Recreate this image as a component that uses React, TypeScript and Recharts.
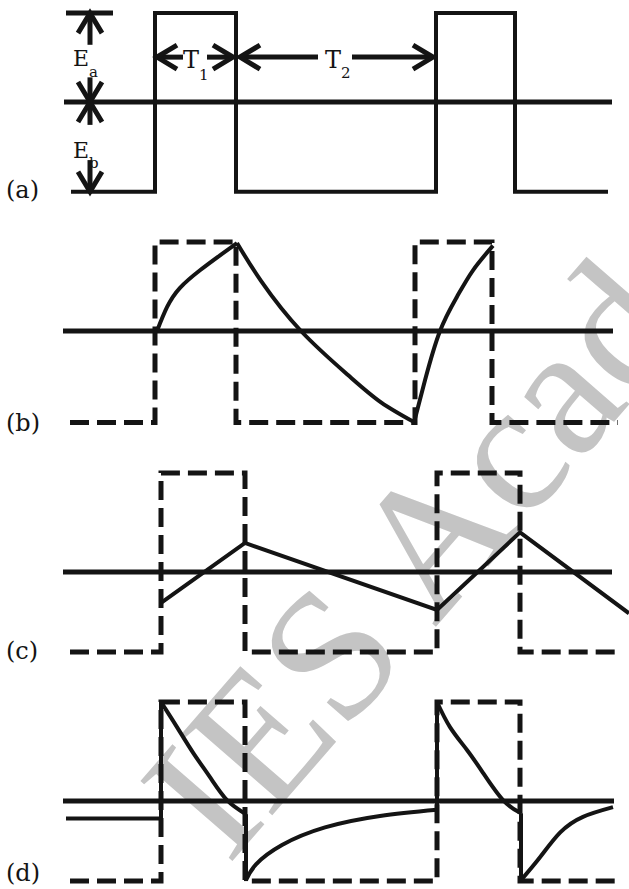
import React from 'react';
import { LineChart, Line, XAxis, YAxis } from 'recharts';

type Pt = { t: number; v: number };
type Dir = 'up' | 'down' | 'left' | 'right';

// t is measured along the sketch (px), v is relative to each reference line (1 ~ pulse height)

// (a) input pulse train
const inputA: Pt[] = [
  { t: 71, v: -1.02 }, { t: 155, v: -1.02 }, { t: 155, v: 1.01 }, { t: 236, v: 1.01 },
  { t: 236, v: -1.02 }, { t: 436, v: -1.02 }, { t: 436, v: 1.01 }, { t: 515, v: 1.01 },
  { t: 515, v: -1.02 }, { t: 608, v: -1.02 },
];
const refA: Pt[] = [{ t: 64, v: 0 }, { t: 612, v: 0 }];
const topTickA: Pt[] = [{ t: 66, v: 1.01 }, { t: 113, v: 1.01 }];

// dimension arrows for Ea, Eb, T1, T2 (broken where the labels sit)
const dimShafts: Pt[][] = [
  [{ t: 90, v: 1.01 }, { t: 90, v: 0.65 }],
  [{ t: 90, v: 0.28 }, { t: 90, v: 0 }],
  [{ t: 90, v: 0 }, { t: 90, v: -0.26 }],
  [{ t: 90, v: -0.66 }, { t: 90, v: -1.02 }],
  [{ t: 157, v: 0.51 }, { t: 183, v: 0.51 }],
  [{ t: 207, v: 0.51 }, { t: 233, v: 0.51 }],
  [{ t: 240, v: 0.51 }, { t: 318, v: 0.51 }],
  [{ t: 352, v: 0.51 }, { t: 433, v: 0.51 }],
];
const dimHeads: { tip: Pt; dir: Dir }[] = [
  { tip: { t: 90, v: 1.01 }, dir: 'up' },
  { tip: { t: 90, v: 0 }, dir: 'down' },
  { tip: { t: 90, v: 0 }, dir: 'up' },
  { tip: { t: 90, v: -1.02 }, dir: 'down' },
  { tip: { t: 157, v: 0.51 }, dir: 'left' },
  { tip: { t: 233, v: 0.51 }, dir: 'right' },
  { tip: { t: 240, v: 0.51 }, dir: 'left' },
  { tip: { t: 433, v: 0.51 }, dir: 'right' },
];

// (b)
const inputB: Pt[] = [
  { t: 70, v: -1.04 }, { t: 155, v: -1.04 }, { t: 155, v: 1.01 }, { t: 236, v: 1.01 },
  { t: 236, v: -1.04 }, { t: 415, v: -1.04 }, { t: 415, v: 1.01 }, { t: 492, v: 1.01 },
  { t: 492, v: -1.04 }, { t: 618, v: -1.04 },
];
const riseB1: Pt[] = [
  { t: 157, v: 0 }, { t: 167, v: 0.27 }, { t: 180, v: 0.49 }, { t: 200, v: 0.69 },
  { t: 220, v: 0.86 }, { t: 237, v: 1.0 },
];
const fallB: Pt[] = [
  { t: 237, v: 1.0 }, { t: 261, v: 0.57 }, { t: 301, v: 0 }, { t: 348, v: -0.5 },
  { t: 381, v: -0.81 }, { t: 415, v: -1.04 },
];
const riseB2: Pt[] = [
  { t: 414, v: -1.04 }, { t: 425, v: -0.56 }, { t: 440, v: 0 }, { t: 457, v: 0.39 },
  { t: 473, v: 0.69 }, { t: 493, v: 0.97 },
];
const refB: Pt[] = [{ t: 63, v: 0 }, { t: 613, v: 0 }];

// (c)
const inputC: Pt[] = [
  { t: 70, v: -0.91 }, { t: 161, v: -0.91 }, { t: 161, v: 1.125 }, { t: 245, v: 1.125 },
  { t: 245, v: -0.91 }, { t: 437, v: -0.91 }, { t: 437, v: 1.125 }, { t: 520, v: 1.125 },
  { t: 520, v: -0.91 }, { t: 618, v: -0.91 },
];
const triC: Pt[] = [
  { t: 161, v: -0.35 }, { t: 245, v: 0.33 }, { t: 437, v: -0.43 }, { t: 520, v: 0.45 }, { t: 629, v: -0.47 },
];
const refC: Pt[] = [{ t: 63, v: 0 }, { t: 612, v: 0 }];

// (d)
const inputD: Pt[] = [
  { t: 70, v: -0.91 }, { t: 161, v: -0.91 }, { t: 161, v: 1.125 }, { t: 245, v: 1.125 },
  { t: 245, v: -0.91 }, { t: 437, v: -0.91 }, { t: 437, v: 1.125 }, { t: 520, v: 1.125 },
  { t: 520, v: -0.91 }, { t: 618, v: -0.91 },
];
const edgesD: Pt[][] = [
  [{ t: 66, v: -0.2 }, { t: 161, v: -0.2 }, { t: 161, v: 1.125 }],
  [{ t: 246, v: -0.15 }, { t: 246, v: -0.91 }],
  [{ t: 437, v: -0.1 }, { t: 437, v: 1.125 }],
  [{ t: 521, v: -0.14 }, { t: 521, v: -0.91 }],
];
const decayD1: Pt[] = [
  { t: 161, v: 1.125 }, { t: 177, v: 0.84 }, { t: 193, v: 0.55 }, { t: 210, v: 0.27 },
  { t: 227, v: 0.01 }, { t: 246, v: -0.15 },
];
const recoverD1: Pt[] = [
  { t: 246, v: -0.9 }, { t: 256, v: -0.72 }, { t: 282, v: -0.5 }, { t: 325, v: -0.3 },
  { t: 380, v: -0.17 }, { t: 437, v: -0.1 },
];
const decayD2: Pt[] = [
  { t: 437, v: 1.125 }, { t: 450, v: 0.84 }, { t: 467, v: 0.58 }, { t: 483, v: 0.32 },
  { t: 503, v: 0.01 }, { t: 521, v: -0.14 },
];
const recoverD2: Pt[] = [
  { t: 521, v: -0.9 }, { t: 540, v: -0.64 }, { t: 560, v: -0.36 }, { t: 583, v: -0.18 }, { t: 613, v: -0.07 },
];
const refD: Pt[] = [{ t: 63, v: 0 }, { t: 614, v: 0 }];

const panelTags = [
  { label: '(a)', y: 198 },
  { label: '(b)', y: 431 },
  { label: '(c)', y: 659 },
  { label: '(d)', y: 881 },
];

const INK = '#141414';
const W = 629;
const H = 220;
const V_RANGE = 1.25;
const PX_PER_V = H / (2 * V_RANGE);
const HEAD_LEN = 20;
const HEAD_HALF = 12;

function head(tip: Pt, dir: Dir): Pt[] {
  const dv = HEAD_LEN / PX_PER_V;
  const hv = HEAD_HALF / PX_PER_V;
  switch (dir) {
    case 'up':
      return [{ t: tip.t - HEAD_HALF, v: tip.v - dv }, tip, { t: tip.t + HEAD_HALF, v: tip.v - dv }];
    case 'down':
      return [{ t: tip.t - HEAD_HALF, v: tip.v + dv }, tip, { t: tip.t + HEAD_HALF, v: tip.v + dv }];
    case 'left':
      return [{ t: tip.t + HEAD_LEN, v: tip.v + hv }, tip, { t: tip.t + HEAD_LEN, v: tip.v - hv }];
    default:
      return [{ t: tip.t - HEAD_LEN, v: tip.v + hv }, tip, { t: tip.t - HEAD_LEN, v: tip.v - hv }];
  }
}

function trace(key: string, data: Pt[], opts: { curved?: boolean; dashed?: boolean; width?: number } = {}) {
  return (
    <Line
      key={key}
      data={data}
      dataKey="v"
      type={opts.curved ? 'natural' : 'linear'}
      stroke={INK}
      strokeWidth={opts.width ?? 4}
      strokeDasharray={opts.dashed ? '19 8' : undefined}
      strokeLinejoin="miter"
      dot={false}
      activeDot={false}
      isAnimationActive={false}
    />
  );
}

function Panel({ top, children }: { top: number; children: React.ReactNode }) {
  return (
    <div style={{ position: 'absolute', left: 0, top }}>
      <LineChart width={W} height={H} margin={{ top: 0, right: 0, bottom: 0, left: 0 }}>
        <XAxis type="number" dataKey="t" domain={[0, W]} hide allowDataOverflow />
        <YAxis type="number" domain={[-V_RANGE, V_RANGE]} hide allowDataOverflow />
        {children}
      </LineChart>
    </div>
  );
}

const serif = '"DejaVu Serif", "Liberation Serif", serif';

export default function App() {
  return (
    <div
      style={{
        position: 'absolute',
        left: 0,
        top: 0,
        width: W,
        height: 889,
        overflow: 'hidden',
        background: '#ffffff',
      }}
    >
      <svg width={W} height={889} style={{ position: 'absolute', left: 0, top: 0 }}>
        <text
          x={228}
          y={866}
          transform="rotate(-49 228 866)"
          fontFamily='"Liberation Serif", serif'
          fontSize={186}
          fill="#c4c4c4"
        >
          IES Acad
        </text>
      </svg>

      <Panel top={-8}>
        {trace('refA', refA, { width: 5 })}
        {trace('tickA', topTickA, { width: 5 })}
        {trace('inA', inputA)}
        {dimShafts.map((s, i) => trace(`shaft${i}`, s, { width: 5 }))}
        {dimHeads.map((h, i) => trace(`head${i}`, head(h.tip, h.dir), { width: 5 }))}
      </Panel>

      <Panel top={221}>
        {trace('refB', refB, { width: 5 })}
        {trace('inB', inputB, { dashed: true, width: 5 })}
        {trace('b1', riseB1, { curved: true })}
        {trace('b2', fallB, { curved: true })}
        {trace('b3', riseB2, { curved: true })}
      </Panel>

      <Panel top={462}>
        {trace('refC', refC, { width: 5 })}
        {trace('inC', inputC, { dashed: true, width: 5 })}
        {trace('c1', triC)}
      </Panel>

      <Panel top={691}>
        {trace('refD', refD, { width: 5 })}
        {trace('inD', inputD, { dashed: true, width: 5 })}
        {edgesD.map((e, i) => trace(`edge${i}`, e))}
        {trace('d1', decayD1, { curved: true })}
        {trace('d2', recoverD1, { curved: true })}
        {trace('d3', decayD2, { curved: true })}
        {trace('d4', recoverD2, { curved: true })}
      </Panel>

      <svg
        width={W}
        height={889}
        style={{ position: 'absolute', left: 0, top: 0, pointerEvents: 'none' }}
        fontFamily={serif}
        fill={INK}
      >
        {panelTags.map((p) => (
          <text key={p.label} x={6} y={p.y} fontSize={24}>
            {p.label}
          </text>
        ))}
        <text x={73} y={66} fontSize={22}>
          E<tspan fontSize={15} dy={11}>a</tspan>
        </text>
        <text x={73} y={158} fontSize={22}>
          E<tspan fontSize={15} dy={10}>b</tspan>
        </text>
        <text x={183} y={68} fontSize={24}>
          T<tspan fontSize={15} dy={12}>1</tspan>
        </text>
        <text x={325} y={68} fontSize={24}>
          T<tspan fontSize={15} dy={10}>2</tspan>
        </text>
      </svg>
    </div>
  );
}
